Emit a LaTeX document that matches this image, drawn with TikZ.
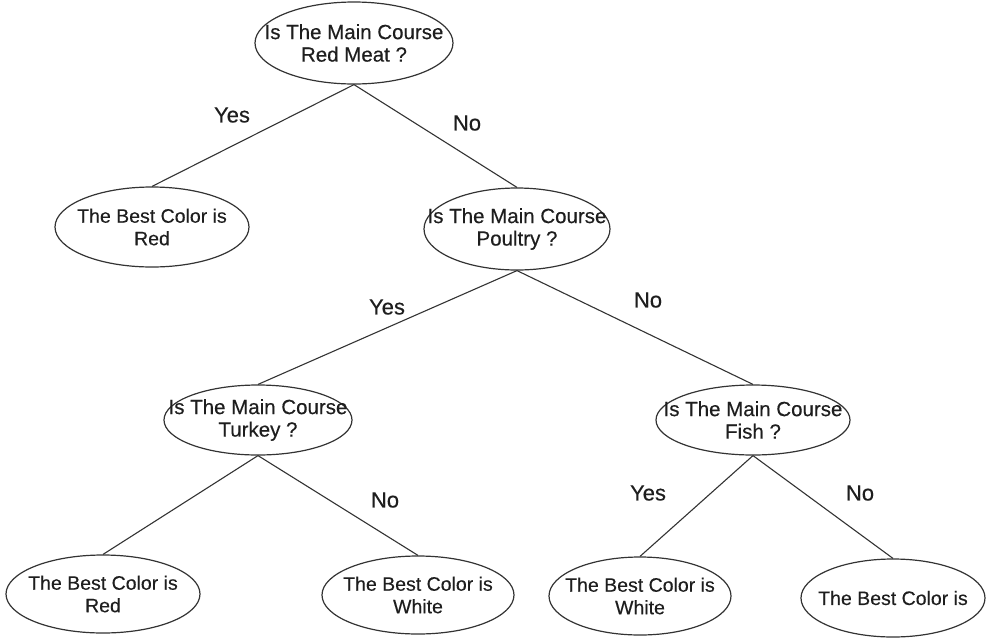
\documentclass[tikz,border=0pt]{standalone}
\usepackage{fontspec}
\setmainfont{Liberation Sans}[FakeBold=0.35]
\usetikzlibrary{shapes.geometric}
\definecolor{ink}{HTML}{1E1E1E}
\definecolor{wire}{HTML}{333333}
\tikzset{
  oval/.style={draw=wire, line width=1.2pt, ellipse, inner sep=0pt},
  txt/.style={text=ink, align=center, inner sep=0pt,
    font=\fontsize{19.5}{22.5}\selectfont},
  qtxt/.style={txt, font=\fontsize{20.5}{22.5}\selectfont},
  answer/.style={text=ink, inner sep=0pt, font=\fontsize{22}{24}\selectfont},
  branch/.style={draw=wire, line width=1.1pt}
}
\begin{document}
\begin{tikzpicture}[x=1pt, y=-1pt]
\useasboundingbox (0,0) rectangle (986,638);

% decision and outcome ovals
\node[oval, minimum width=198pt, minimum height=82pt] (root) at (354,43) {};
\node[qtxt] (root-t) at (root) {Is The Main Course\\Red Meat ?};

\node[oval, minimum width=194pt, minimum height=80pt] (red1) at (152,227) {};
\node[txt] (red1-t) at (red1) {The Best Color is\\Red};

\node[oval, minimum width=186pt, minimum height=82pt] (poultry) at (517,229) {};
\node[qtxt] (poultry-t) at (poultry) {Is The Main Course\\Poultry ?};

\node[oval, minimum width=188pt, minimum height=70pt] (turkey) at (258,420) {};
\node[qtxt] (turkey-t) at (turkey) {Is The Main Course\\Turkey ?};

\node[oval, minimum width=194pt, minimum height=70pt] (fish) at (753,420) {};
\node[qtxt] (fish-t) at (fish) {Is The Main Course\\Fish ?};

\node[oval, minimum width=194pt, minimum height=78pt] (red2) at (103,594) {};
\node[txt] (red2-t) at (red2) {The Best Color is\\Red};

\node[oval, minimum width=192pt, minimum height=78pt] (white1) at (418,595) {};
\node[txt] (white1-t) at (white1) {The Best Color is\\White};

\node[oval, minimum width=182pt, minimum height=78pt] (white2) at (640,596) {};
\node[txt] (white2-t) at (white2) {The Best Color is\\White};

\node[oval, minimum width=184pt, minimum height=78pt] (last) at (893,598) {};
\node[txt] (last-t) at (last) {The Best Color is};

% branches
\draw[branch] (root.south) -- (red1.north);
\draw[branch] (root.south) -- (poultry.north);
\draw[branch] (poultry.south) -- (turkey.north);
\draw[branch] (poultry.south) -- (fish.north);
\draw[branch] (turkey.south) -- (red2.north);
\draw[branch] (turkey.south) -- (white1.north);
\draw[branch] (fish.south) -- (white2.north);
\draw[branch] (fish.south) -- (last.north);

% branch answers
\node[answer] (a1) at (232,115) {Yes};
\node[answer] (a2) at (467,123) {No};
\node[answer] (a3) at (387,307) {Yes};
\node[answer] (a4) at (648,300) {No};
\node[answer] (a5) at (385,500) {No};
\node[answer] (a6) at (648,493) {Yes};
\node[answer] (a7) at (860,493) {No};
\end{tikzpicture}
\end{document}
